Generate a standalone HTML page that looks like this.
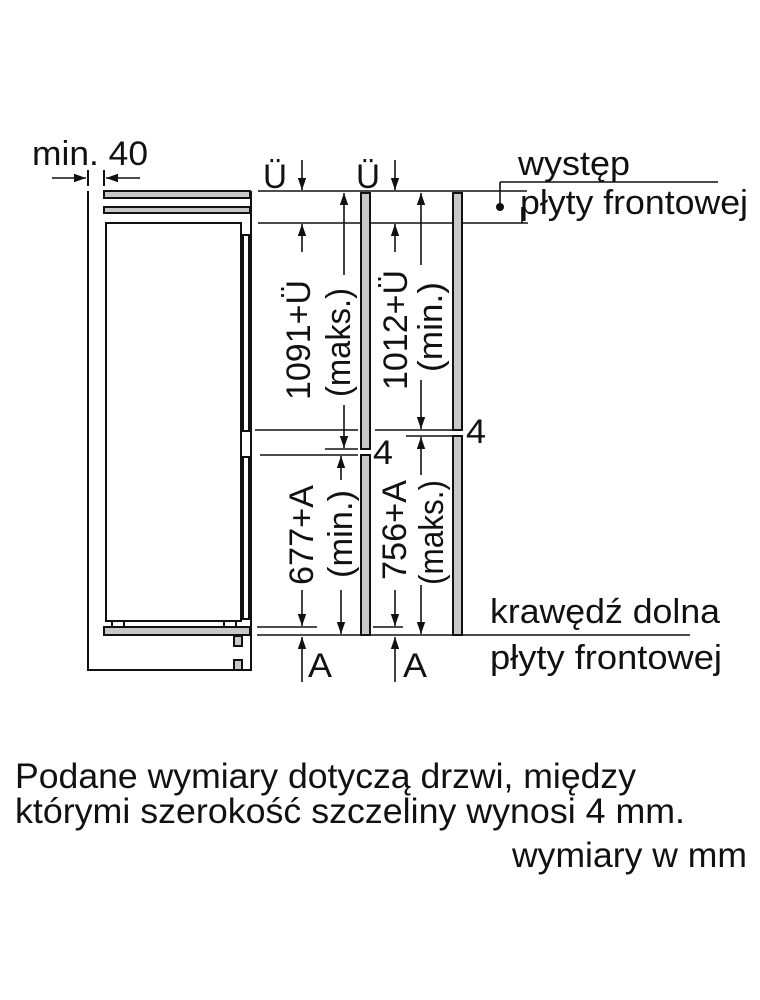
<!DOCTYPE html>
<html><head><meta charset="utf-8"><style>
html,body{margin:0;padding:0;background:#fff}
svg{display:block}
text{font-family:"Liberation Sans",sans-serif;fill:#111}
</style></head><body>
<svg width="760" height="1000" viewBox="0 0 760 1000" xmlns="http://www.w3.org/2000/svg">
<defs>
<marker id="a" viewBox="0 0 10 10" refX="10" refY="5" markerWidth="14" markerHeight="12" markerUnits="userSpaceOnUse" orient="auto"><path d="M0,1.5 L10,5 L0,8.5 Z" fill="#111"/></marker>
</defs>
<g stroke="#111" stroke-width="2" fill="none">
<path d="M88,191 V670 H251 V191"/>
<rect x="104" y="191" width="146" height="7" fill="#c8c8c8"/>
<rect x="104" y="207" width="146" height="6" fill="#c8c8c8"/>
<rect x="106" y="223" width="135" height="398" fill="#fff"/>
<rect x="243" y="235" width="6" height="196" fill="#fff"/>
<rect x="243" y="457" width="6" height="162" fill="#fff"/>
<rect x="112" y="621" width="12" height="6"/>
<rect x="224" y="621" width="12" height="6"/>
<rect x="104" y="627" width="146" height="8" fill="#c8c8c8"/>
<rect x="234" y="636" width="8" height="10" fill="#c8c8c8"/>
<rect x="234" y="660" width="8" height="10" fill="#c8c8c8"/>
<line x1="88" y1="170" x2="88" y2="186"/><line x1="104" y1="170" x2="104" y2="186"/>
</g>
<g stroke="#111" stroke-width="1.6" fill="none">
<line x1="52" y1="178" x2="86" y2="178" marker-end="url(#a)"/>
<line x1="140" y1="178" x2="106" y2="178" marker-end="url(#a)"/>
<line x1="258" y1="191" x2="527" y2="191"/>
<line x1="258" y1="223" x2="528" y2="223"/>
<line x1="522" y1="207" x2="522" y2="223"/>
<line x1="500" y1="182" x2="718" y2="182"/>
<line x1="500" y1="182" x2="500" y2="207"/>
<line x1="255" y1="430" x2="358" y2="430"/>
<line x1="375" y1="430" x2="452" y2="430"/>
<line x1="406" y1="436" x2="452" y2="436"/>
<line x1="325" y1="449" x2="358" y2="449"/>
<line x1="260" y1="455" x2="358" y2="455"/>
<line x1="257" y1="627" x2="317" y2="627"/>
<line x1="373" y1="627" x2="403" y2="627"/>
<line x1="257" y1="635" x2="690" y2="635"/>
<line x1="302" y1="160" x2="302" y2="190" marker-end="url(#a)"/>
<line x1="302" y1="252" x2="302" y2="224" marker-end="url(#a)"/>
<line x1="344" y1="275" x2="344" y2="193" marker-end="url(#a)"/>
<line x1="344" y1="405" x2="344" y2="448" marker-end="url(#a)"/>
<line x1="395" y1="160" x2="395" y2="190" marker-end="url(#a)"/>
<line x1="395" y1="252" x2="395" y2="224" marker-end="url(#a)"/>
<line x1="421" y1="265" x2="421" y2="193" marker-end="url(#a)"/>
<line x1="421" y1="380" x2="421" y2="429" marker-end="url(#a)"/>
<line x1="302" y1="590" x2="302" y2="626" marker-end="url(#a)"/>
<line x1="302" y1="682" x2="302" y2="637" marker-end="url(#a)"/>
<line x1="341" y1="480" x2="341" y2="456" marker-end="url(#a)"/>
<line x1="341" y1="590" x2="341" y2="634" marker-end="url(#a)"/>
<line x1="395" y1="590" x2="395" y2="626" marker-end="url(#a)"/>
<line x1="395" y1="682" x2="395" y2="637" marker-end="url(#a)"/>
<line x1="421" y1="475" x2="421" y2="437" marker-end="url(#a)"/>
<line x1="421" y1="585" x2="421" y2="634" marker-end="url(#a)"/>
</g>
<circle cx="500" cy="207" r="4" fill="#111"/>
<g stroke="#111" stroke-width="2" fill="#c8c8c8">
<rect x="361" y="193" width="9" height="256"/>
<rect x="361" y="455" width="9" height="180"/>
<rect x="453" y="193" width="9" height="237"/>
<rect x="453" y="436" width="9" height="199"/>
</g>
<g font-size="34">
<text x="32" y="165" textLength="116" lengthAdjust="spacingAndGlyphs">min. 40</text>
<text x="263" y="188" textLength="24" lengthAdjust="spacingAndGlyphs">Ü</text>
<text x="356" y="188" textLength="24" lengthAdjust="spacingAndGlyphs">Ü</text>
<text x="518" y="175" textLength="112" lengthAdjust="spacingAndGlyphs">występ</text>
<text x="520" y="214" textLength="228" lengthAdjust="spacingAndGlyphs">płyty frontowej</text>
<text x="466" y="443" textLength="20" lengthAdjust="spacingAndGlyphs">4</text>
<text x="373" y="464" textLength="20" lengthAdjust="spacingAndGlyphs">4</text>
<text x="490" y="623" textLength="230" lengthAdjust="spacingAndGlyphs">krawędź dolna</text>
<text x="490" y="669" textLength="232" lengthAdjust="spacingAndGlyphs">płyty frontowej</text>
<text x="308" y="677" textLength="24" lengthAdjust="spacingAndGlyphs">A</text>
<text x="403" y="677" textLength="24" lengthAdjust="spacingAndGlyphs">A</text>
<text transform="translate(310,400) rotate(-90)" textLength="120" lengthAdjust="spacingAndGlyphs">1091+Ü</text>
<text transform="translate(350,397) rotate(-90)" textLength="109" lengthAdjust="spacingAndGlyphs">(maks.)</text>
<text transform="translate(407,390) rotate(-90)" textLength="120" lengthAdjust="spacingAndGlyphs">1012+Ü</text>
<text transform="translate(442,372) rotate(-90)" textLength="90" lengthAdjust="spacingAndGlyphs">(min.)</text>
<text transform="translate(313,585) rotate(-90)" textLength="100" lengthAdjust="spacingAndGlyphs">677+A</text>
<text transform="translate(352,578) rotate(-90)" textLength="88" lengthAdjust="spacingAndGlyphs">(min.)</text>
<text transform="translate(406,580) rotate(-90)" textLength="100" lengthAdjust="spacingAndGlyphs">756+A</text>
<text transform="translate(443,585) rotate(-90)" textLength="105" lengthAdjust="spacingAndGlyphs">(maks.)</text>
</g>
<g font-size="35">
<text x="15" y="788" textLength="621" lengthAdjust="spacingAndGlyphs">Podane wymiary dotyczą drzwi, między</text>
<text x="15" y="823" textLength="670" lengthAdjust="spacingAndGlyphs">którymi szerokość szczeliny wynosi 4 mm.</text>
<text x="512" y="867" textLength="235" lengthAdjust="spacingAndGlyphs">wymiary w mm</text>
</g>
</svg>
</body></html>
